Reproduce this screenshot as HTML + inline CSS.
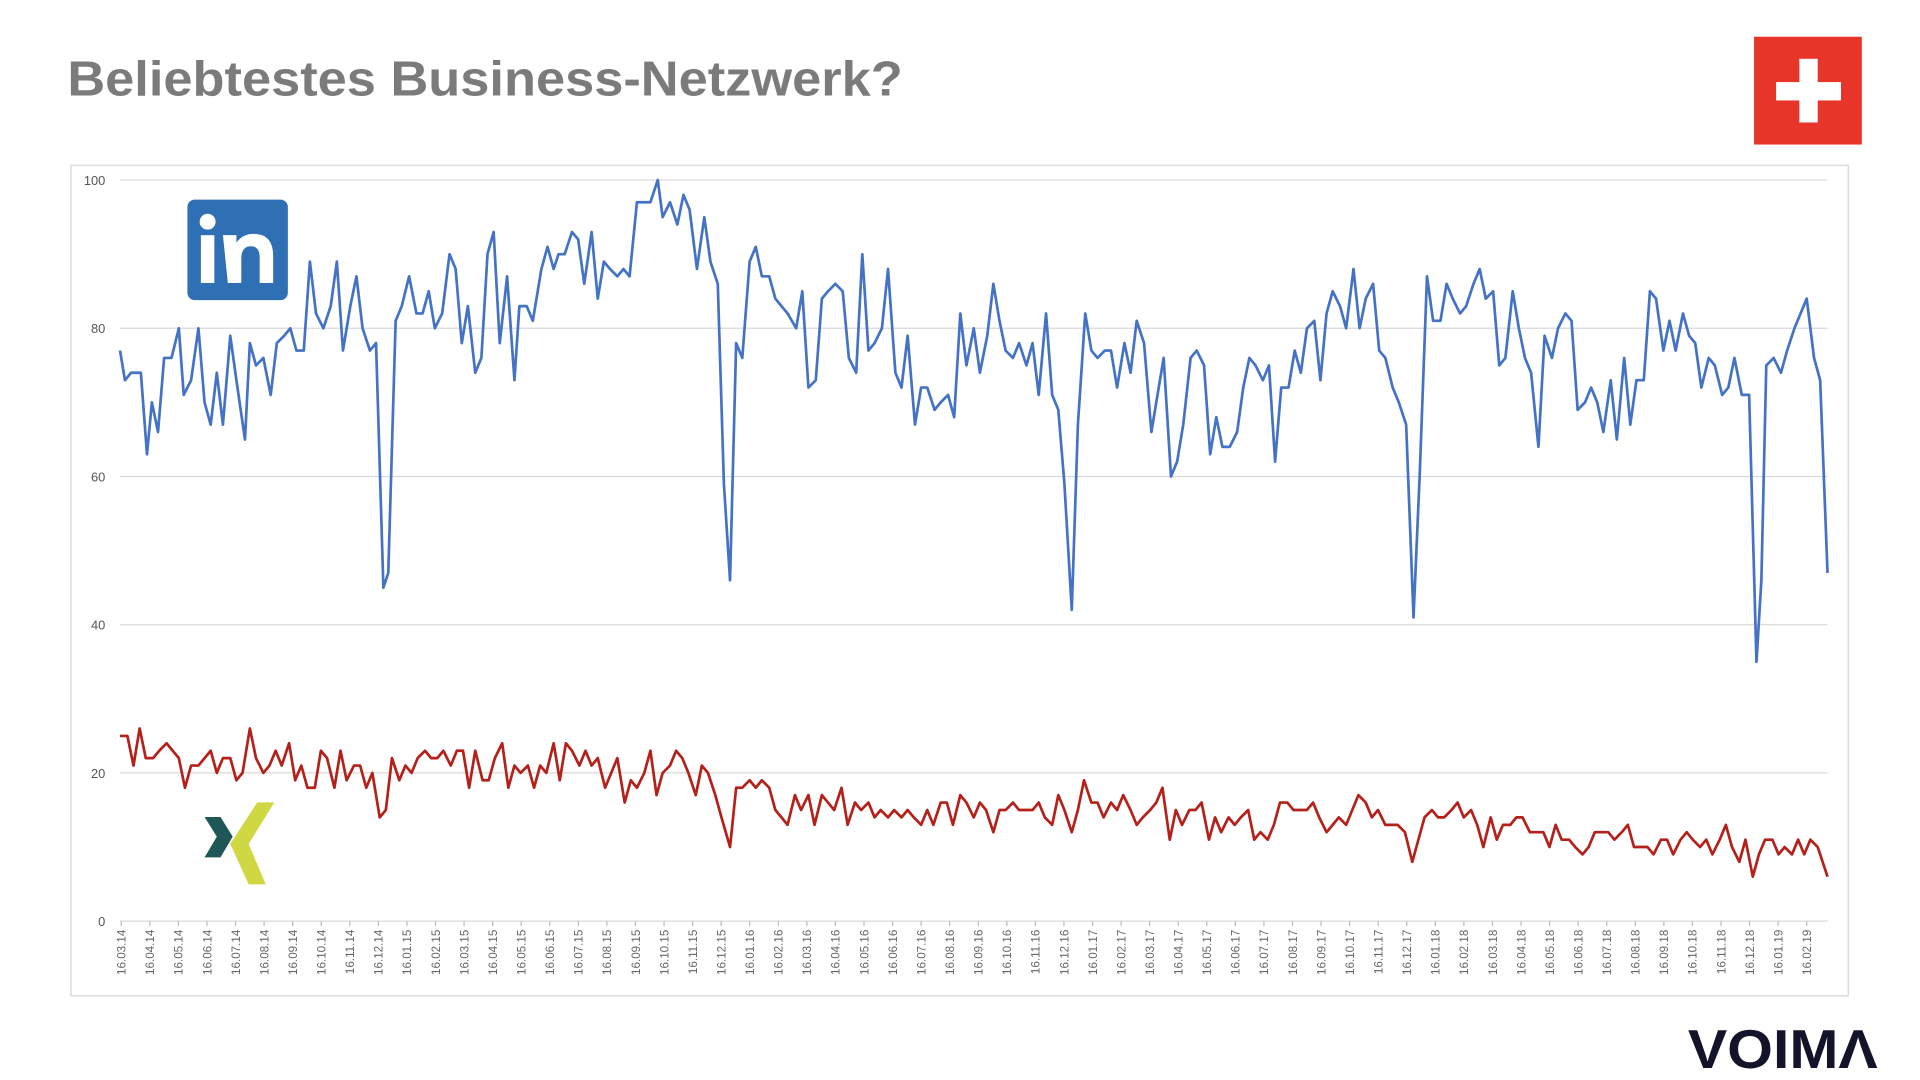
<!DOCTYPE html>
<html><head><meta charset="utf-8"><style>
html,body{margin:0;padding:0;background:#fff;width:1920px;height:1080px;overflow:hidden}
svg{display:block}
</style></head><body>
<svg id="s" width="1920" height="1080" viewBox="0 0 1567.5 881.7" preserveAspectRatio="none" xmlns="http://www.w3.org/2000/svg">
<text x="55" y="78" font-family="Liberation Sans, sans-serif" font-weight="bold" font-size="40" fill="#7b7b7b" textLength="682" lengthAdjust="spacingAndGlyphs">Beliebtestes Business-Netzwerk?</text>
<rect x="1432" y="30" width="88" height="88" fill="#e8352a"/>
<rect x="1469" y="48" width="15" height="52" fill="#fff"/>
<rect x="1450" y="67" width="53" height="15" fill="#fff"/>
<rect x="58" y="135" width="1451" height="678" fill="none" stroke="#dcdcdc" stroke-width="1.2"/>
<g id="grid" stroke="#d9d9d9" stroke-width="1"></g>
<g id="ylab" font-family="Liberation Sans, sans-serif" font-size="10.5" fill="#555" text-anchor="end"></g>
<g id="xlab" font-family="Liberation Sans, sans-serif" font-size="9.5" fill="#666"></g>
<rect x="153" y="163" width="82" height="82" rx="6" fill="#2f6fb3"/>
<rect x="164" y="192" width="11" height="39" fill="#fff"/>
<circle cx="169.5" cy="181" r="6.5" fill="#fff"/>
<path d="M182 192 h11 v6 q6 -8 16 -7 q14 1 14 18 v22 h-11 v-21 q0 -9 -7 -9 q-8 0 -8 10 v20 h-11z" fill="#fff"/>
<polygon points="167,667 180,667 190,683 180,700 167,700 177,683" fill="#1f5656"/>
<polygon points="210,655 224,655 203,689 217,722 203,722 188,689" fill="#cfd843"/>
<polyline id="blue" fill="none" stroke="#4472c4" stroke-width="2.2" stroke-linejoin="round"/>
<polyline id="red" fill="none" stroke="#b3211a" stroke-width="2.2" stroke-linejoin="round"/>
<text x="1378" y="872" font-family="Liberation Sans, sans-serif" font-weight="bold" font-size="45" fill="#13132a" textLength="155" lengthAdjust="spacingAndGlyphs">VOIMΛ</text>
</svg>
<script>
var NS="http://www.w3.org/2000/svg";
function Y(v){return 752-v*6.05;}
var g=document.getElementById("grid"),yl=document.getElementById("ylab"),xl=document.getElementById("xlab");
for(var v=0;v<=100;v+=20){var l=document.createElementNS(NS,"line");l.setAttribute("x1",98);l.setAttribute("x2",1492);l.setAttribute("y1",Y(v));l.setAttribute("y2",Y(v));g.appendChild(l);
var t=document.createElementNS(NS,"text");t.setAttribute("x",86);t.setAttribute("y",Y(v)+4);t.textContent=v;yl.appendChild(t);}
var m=3,yr=14;
for(var i=0;i<60;i++){var x=99+i*(1475-99)/59;
var tk=document.createElementNS(NS,"line");tk.setAttribute("x1",x);tk.setAttribute("x2",x);tk.setAttribute("y1",752);tk.setAttribute("y2",756);tk.setAttribute("stroke","#bbb");g.appendChild(tk);
var t=document.createElementNS(NS,"text");t.setAttribute("transform","translate("+(x+3.5)+",759) rotate(-90)");t.setAttribute("text-anchor","end");
t.textContent="16."+(m<10?"0"+m:m)+"."+yr;xl.appendChild(t);m++;if(m>12){m=1;yr++;}}
var B=[98,77,102,73,107,74,115,74,120,63,124,70,129,66,134,76,140,76,146,80,150,71,156,73,162,80,167,70,172,67,177,74,182,67,188,79,193,73,200,65,204,78,209,75,215,76,221,71,226,78,232,79,237,80,242,77,248,77,253,89,258,82,264,80,270,83,275,89,280,77,286,83,291,87,296,80,302,77,307,78,313,45,317,47,323,81,328,83,334,87,340,82,345,82,350,85,355,80,361,82,367,90,372,88,377,78,382,83,388,74,393,76,398,90,403,93,408,78,414,87,420,73,424,83,430,83,435,81,442,88,447,91,452,88,456,90,461,90,467,93,472,92,477,86,483,93,488,84,493,89,498,88,504,87,509,88,514,87,520,97,526,97,531,97,537,100,541,95,547,97,553,94,558,98,563,96,569,88,575,95,580,89,586,86,591,59,596,46,601,78,606,76,612,89,617,91,622,87,628,87,633,84,638,83,643,82,650,80,655,85,660,72,666,73,671,84,676,85,682,86,688,85,693,76,699,74,704,90,709,77,714,78,720,80,725,88,731,74,736,72,741,79,747,67,752,72,757,72,763,69,768,70,774,71,779,68,784,82,789,75,795,80,800,74,806,79,811,86,816,81,821,77,827,76,832,78,838,75,843,78,848,71,854,82,859,71,864,69,869,59,875,42,880,67,886,82,891,77,896,76,902,77,907,77,912,72,918,78,923,74,928,81,934,78,940,66,945,71,950,76,956,60,961,62,966,67,972,76,977,77,983,75,988,63,993,68,998,64,1004,64,1010,66,1015,72,1020,76,1025,75,1031,73,1036,75,1041,62,1046,72,1052,72,1057,77,1062,74,1067,80,1073,81,1078,73,1083,82,1088,85,1094,83,1099,80,1105,88,1110,80,1115,84,1121,86,1126,77,1131,76,1137,72,1142,70,1148,67,1154,41,1159,60,1165,87,1170,81,1176,81,1181,86,1186,84,1192,82,1197,83,1203,86,1208,88,1213,84,1219,85,1224,75,1229,76,1235,85,1240,80,1245,76,1250,74,1256,64,1261,79,1267,76,1272,80,1278,82,1283,81,1288,69,1294,70,1299,72,1304,70,1309,66,1315,73,1320,65,1326,76,1331,67,1336,73,1342,73,1347,85,1352,84,1358,77,1363,81,1368,77,1374,82,1379,79,1384,78,1389,72,1395,76,1400,75,1406,71,1411,72,1416,76,1422,71,1428,71,1434,35,1438,46,1442,75,1448,76,1454,74,1459,77,1465,80,1470,82,1475,84,1481,76,1486,73,1492,47];
var R=[98,25,104,25,109,21,114,26,119,22,125,22,130,23,136,24,141,23,146,22,151,18,156,21,162,21,167,22,172,23,177,20,182,22,188,22,193,19,198,20,204,26,209,22,215,20,220,21,225,23,230,21,236,24,241,19,246,21,251,18,257,18,262,23,267,22,273,18,278,23,283,19,289,21,294,21,299,18,304,20,310,14,315,15,320,22,326,19,331,21,336,20,341,22,347,23,352,22,357,22,362,23,368,21,373,23,378,23,383,18,388,23,394,19,399,19,404,22,410,24,415,18,420,21,425,20,431,21,436,18,441,21,446,20,452,24,457,19,462,24,467,23,473,21,478,23,483,21,488,22,494,18,499,20,504,22,510,16,515,19,520,18,526,20,531,23,536,17,541,20,547,21,552,23,557,22,562,20,568,17,573,21,578,20,584,17,589,14,596,10,601,18,606,18,612,19,617,18,622,19,628,18,633,15,638,14,643,13,649,17,654,15,660,17,665,13,671,17,676,16,681,15,687,18,692,13,698,16,703,15,709,16,714,14,719,15,725,14,730,15,736,14,741,15,746,14,752,13,757,15,762,13,768,16,773,16,778,13,784,17,789,16,795,14,800,16,805,15,811,12,816,15,821,15,827,16,832,15,837,15,843,15,848,16,853,14,859,13,864,17,869,15,875,12,880,15,885,19,891,16,896,16,901,14,907,16,912,15,917,17,923,15,928,13,933,14,939,15,944,16,949,18,955,11,960,15,965,13,971,15,976,15,981,16,987,11,992,14,997,12,1003,14,1008,13,1013,14,1019,15,1024,11,1029,12,1035,11,1040,13,1045,16,1051,16,1056,15,1061,15,1067,15,1072,16,1077,14,1083,12,1088,13,1093,14,1099,13,1104,15,1109,17,1115,16,1120,14,1125,15,1131,13,1136,13,1141,13,1147,12,1153,8,1158,11,1163,14,1169,15,1174,14,1179,14,1185,15,1190,16,1195,14,1201,15,1206,13,1211,10,1217,14,1222,11,1227,13,1233,13,1238,14,1243,14,1249,12,1254,12,1260,12,1265,10,1270,13,1275,11,1281,11,1286,10,1292,9,1297,10,1302,12,1308,12,1313,12,1318,11,1324,12,1329,13,1334,10,1340,10,1345,10,1350,9,1356,11,1361,11,1366,9,1372,11,1377,12,1382,11,1388,10,1393,11,1398,9,1404,11,1409,13,1414,10,1420,8,1425,11,1431,6,1436,9,1441,11,1447,11,1452,9,1457,10,1463,9,1468,11,1473,9,1478,11,1484,10,1492,6];
function pts(a){var s=[];for(var i=0;i<a.length;i+=2)s.push(a[i]+","+Y(a[i+1]).toFixed(1));return s.join(" ");}
document.getElementById("blue").setAttribute("points",pts(B));
document.getElementById("red").setAttribute("points",pts(R));
</script>
</body></html>
